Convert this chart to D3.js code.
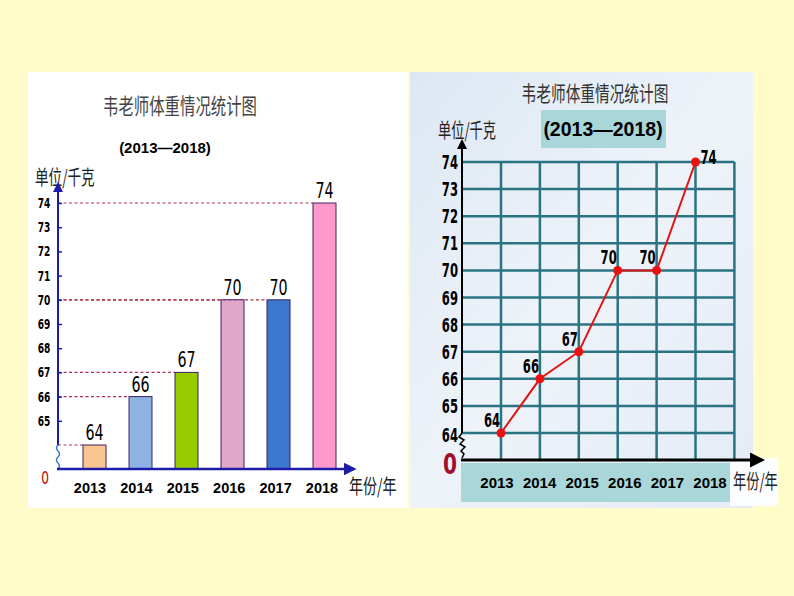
<!DOCTYPE html>
<html>
<head>
<meta charset="utf-8">
<script src="https://cdn.jsdelivr.net/npm/d3@7"></script>
<style>
  body { margin: 0; background: #fffcc9; }
  svg { display: block; }
</style>
</head>
<body>
<div id="container"></div>
<script>
// data
var years = ["2013", "2014", "2015", "2016", "2017", "2018"];
var weights = [64, 66, 67, 70, 70, 74];
var barColors = ["#f9c591", "#8db3e2", "#99cc00", "#e0a7c9", "#3b78cf", "#ff99cc"];
var leftTicks = [65, 66, 67, 68, 69, 70, 71, 72, 73, 74];
var rightTicks = [64, 65, 66, 67, 68, 69, 70, 71, 72, 73, 74];
var title = "韦老师体重情况统计图";
var period = "(2013—2018)";
var yUnit = "单位/千克";
var xUnit = "年份/年";

var W = 794, H = 596;
var narrow = "'DejaVu Sans Condensed', 'Liberation Sans Narrow', sans-serif";
var arial = "'Liberation Sans', Arial, sans-serif";
var cjk = "'Noto Sans CJK SC', sans-serif";

var svg = d3.select("#container").append("svg")
    .attr("width", W).attr("height", H);

var defs = svg.append("defs");
var sky = defs.append("linearGradient").attr("id", "sky")
    .attr("x1", 0).attr("y1", 0).attr("x2", 1).attr("y2", 1);
sky.append("stop").attr("offset", 0).attr("stop-color", "#dde7f3");
sky.append("stop").attr("offset", 0.5).attr("stop-color", "#eef3f9");
sky.append("stop").attr("offset", 1).attr("stop-color", "#e3ebf5");

function arrow(id, color) {
    defs.append("marker").attr("id", id)
        .attr("viewBox", "0 0 10 10").attr("refX", 8).attr("refY", 5)
        .attr("markerWidth", 5).attr("markerHeight", 5)
        .attr("orient", "auto")
        .append("path").attr("d", "M0,0L10,5L0,10z").attr("fill", color);
}
arrow("arrBlue", "#1c1ca8");
arrow("arrBlack", "#000");

// squeezed text helper (the picture uses tall narrow glyphs)
function sq(sel, x, y, sx) {
    return sel.attr("transform", function (d, i) {
        return "translate(" + x(d, i) + "," + y(d, i) + ") scale(" + sx + ",1)";
    });
}
function cjkText(g, x, y, str, size, sx, anchor) {
    return g.append("text")
        .attr("transform", "translate(" + x + "," + y + ") scale(" + sx + ",1)")
        .attr("text-anchor", anchor || "middle")
        .style("font-family", cjk)
        .style("font-size", size + "px")
        .attr("fill", "#222")
        .text(str);
}

// ---------- left : bar chart ----------
var left = svg.append("g");
left.append("rect").attr("x", 28).attr("y", 72).attr("width", 380).attr("height", 436).attr("fill", "#fff");

var yL = d3.scaleLinear().domain([64, 74]).range([445, 203]);
var xL = d3.scalePoint().domain(years).range([94.5, 324.5]);
var xLabL = d3.scalePoint().domain(years).range([90, 322]);
var barW = 23, baseL = 469, axL = 58;

cjkText(left, 180, 114, title, 22, 0.7).attr("fill", "#444");
left.append("text").attr("x", 165).attr("y", 153).attr("text-anchor", "middle")
    .style("font-family", arial).style("font-weight", "bold")
    .style("font-size", "15px").text(period);
cjkText(left, 35, 185, yUnit, 20, 0.68, "start");

// dashed guides
left.selectAll(".guide").data(weights).enter().append("line")
    .attr("x1", axL).attr("x2", (d, i) => xL(years[i]) - barW / 2)
    .attr("y1", d => yL(d)).attr("y2", d => yL(d))
    .attr("stroke", "#b0304a").attr("stroke-width", 1.2).attr("stroke-dasharray", "3,2.5");

// bars
left.selectAll(".bar").data(weights).enter().append("rect")
    .attr("x", (d, i) => xL(years[i]) - barW / 2)
    .attr("y", d => yL(d))
    .attr("width", barW)
    .attr("height", d => baseL - yL(d))
    .attr("fill", (d, i) => barColors[i])
    .attr("stroke", "#3d2060").attr("stroke-width", 1);

// value labels
sq(left.selectAll(".val").data(weights).enter().append("text"),
    (d, i) => xL(years[i]), d => yL(d) - 5, 0.72)
    .attr("text-anchor", "middle")
    .style("font-family", narrow).style("font-size", "22px")
    .text(d => d);

// y axis
var yAxisL = left.append("g").attr("transform", "translate(" + axL + ",0)")
    .call(d3.axisRight(yL).tickValues(leftTicks).tickSize(4).tickFormat(""));
yAxisL.select(".domain").remove();
yAxisL.selectAll("line").attr("stroke", "#1c1ca8").attr("stroke-width", 1.5);
sq(left.selectAll(".ytl").data(leftTicks).enter().append("text"),
    d => 44, d => yL(d) + 5, 0.72)
    .attr("text-anchor", "middle")
    .style("font-family", narrow).style("font-weight", "bold").style("font-size", "14px")
    .text(d => d);
left.append("line").attr("x1", axL).attr("x2", axL).attr("y1", 445).attr("y2", 184)
    .attr("stroke", "#1c1ca8").attr("stroke-width", 2).attr("marker-end", "url(#arrBlue)");
left.append("path")
    .attr("d", "M" + axL + ",445 q-3,3 0,6 q3,3 0,6 q-3,3 0,6 q3,3 0,6")
    .attr("fill", "none").attr("stroke", "#3a7bd0").attr("stroke-width", 1.5);

// x axis
left.append("line").attr("x1", axL - 1).attr("x2", 354).attr("y1", baseL).attr("y2", baseL)
    .attr("stroke", "#1c1ca8").attr("stroke-width", 2.5).attr("marker-end", "url(#arrBlue)");
left.selectAll(".xtl").data(years).enter().append("text")
    .attr("x", d => xLabL(d)).attr("y", 493).attr("text-anchor", "middle")
    .style("font-family", arial).style("font-weight", "bold")
    .style("font-size", "14.5px").text(d => d);
cjkText(left, 349, 494, xUnit, 20, 0.7, "start");
sq(left.append("text"), () => 45, () => 484, 0.75).attr("text-anchor", "middle")
    .style("font-family", narrow).style("font-size", "18px").attr("fill", "#c00000").text("0");

// ---------- right : line chart ----------
var right = svg.append("g");
right.append("rect").attr("x", 410).attr("y", 72).attr("width", 343).attr("height", 436).attr("fill", "url(#sky)");
right.append("rect").attr("x", 730).attr("y", 458).attr("width", 48).attr("height", 48).attr("fill", "#fcfdfe");

var yR = d3.scaleLinear().domain([64, 74]).range([433, 162]);
var xR = d3.scalePoint().domain(years).range([501, 695.5]);
var xLabR = d3.scalePoint().domain(years).range([497, 710]);
var axR = 462, baseR = 460;
var gridX = [axR].concat(years.map(d => xR(d)), [xR("2018") + xR.step()]);

cjkText(right, 595, 101, title, 21, 0.7).attr("fill", "#333");
right.append("rect").attr("x", 541).attr("y", 110).attr("width", 125).attr("height", 38).attr("fill", "#a9d6d8");
right.append("text").attr("x", 603).attr("y", 136).attr("text-anchor", "middle")
    .style("font-family", arial).style("font-weight", "bold")
    .style("font-size", "19.5px").text(period);
cjkText(right, 438, 138, yUnit, 20, 0.66, "start");

// grid
right.selectAll(".hg").data(rightTicks).enter().append("line")
    .attr("x1", axR).attr("x2", gridX[gridX.length - 1])
    .attr("y1", d => yR(d)).attr("y2", d => yR(d))
    .attr("stroke", "#2a7482").attr("stroke-width", 2.5);
right.selectAll(".vg").data(gridX.slice(1)).enter().append("line")
    .attr("x1", d => d).attr("x2", d => d)
    .attr("y1", yR(74)).attr("y2", baseR)
    .attr("stroke", "#2a7482").attr("stroke-width", 2.5);

// teal label strip
right.append("rect").attr("x", 461).attr("y", 463).attr("width", 269).attr("height", 39).attr("fill", "#a9d6d8");

// axes
right.append("line").attr("x1", axR).attr("x2", axR).attr("y1", 433).attr("y2", 141)
    .attr("stroke", "#000").attr("stroke-width", 2).attr("marker-end", "url(#arrBlack)");
right.append("path")
    .attr("d", "M" + axR + ",433 l-3,4 l5,3 l-4,4 l5,3 l-4,4 l3,3 l-2,4")
    .attr("fill", "none").attr("stroke", "#000").attr("stroke-width", 1.5);
right.append("line").attr("x1", axR - 1).attr("x2", 762).attr("y1", baseR).attr("y2", baseR)
    .attr("stroke", "#000").attr("stroke-width", 3).attr("marker-end", "url(#arrBlack)");

sq(right.selectAll(".ytr").data(rightTicks).enter().append("text"),
    d => 458, d => yR(d) + 7 + (d === 64 ? 2 : 0), 0.68)
    .attr("text-anchor", "end")
    .style("font-family", narrow).style("font-weight", "bold").style("font-size", "19px")
    .text(d => d);
sq(right.append("text"), () => 450, () => 474, 0.8).attr("text-anchor", "middle")
    .style("font-family", narrow).style("font-weight", "bold").style("font-size", "28px")
    .attr("fill", "#a0102e").text("0");

right.selectAll(".xtr").data(years).enter().append("text")
    .attr("x", d => xLabR(d)).attr("y", 488).attr("text-anchor", "middle")
    .style("font-family", arial).style("font-weight", "bold")
    .style("font-size", "15px").text(d => d);
cjkText(right, 733, 489, xUnit, 20, 0.66, "start");

// line + points
var line = d3.line().x((d, i) => xR(years[i])).y(d => yR(d));
right.append("path").datum(weights).attr("d", line)
    .attr("fill", "none").attr("stroke", "#e31414").attr("stroke-width", 2);
right.selectAll(".pt").data(weights).enter().append("circle")
    .attr("cx", (d, i) => xR(years[i])).attr("cy", d => yR(d)).attr("r", 4.5)
    .attr("fill", "#ee1010");
sq(right.selectAll(".pv").data(weights).enter().append("text"),
    (d, i) => xR(years[i]) + (i === 5 ? 13 : -9),
    (d, i) => yR(d) + (i === 5 ? 2 : -6), 0.68)
    .attr("text-anchor", "middle")
    .style("font-family", narrow).style("font-weight", "bold").style("font-size", "19px")
    .text(d => d);
</script>
</body>
</html>
